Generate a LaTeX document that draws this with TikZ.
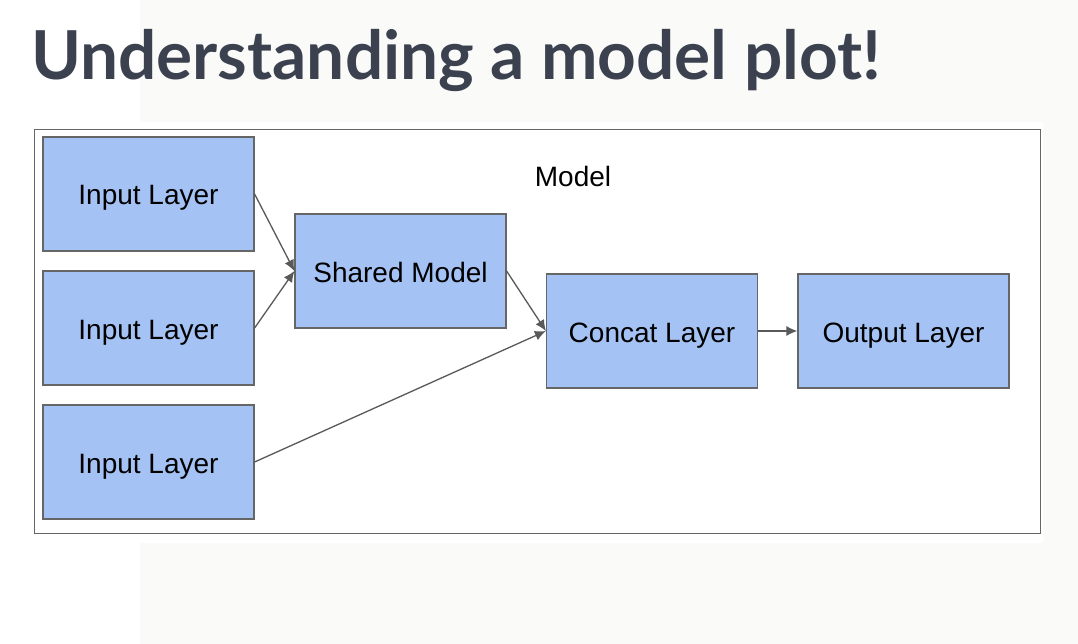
\documentclass[tikz,border=0pt]{standalone}
\usepackage{fontspec}
\setmainfont{Liberation Sans}
\newfontfamily\titlefont{Lato}
\usetikzlibrary{arrows.meta}
\definecolor{offwhite}{HTML}{FAFAF9}
\definecolor{titlecol}{HTML}{3C4150}
\definecolor{boxfill}{HTML}{A4C2F4}
\definecolor{boxline}{HTML}{666666}
\definecolor{arrowcol}{HTML}{595959}
\tikzset{
  layerbox/.style={draw=boxline, fill=boxfill, line width=1.2pt, minimum width=211pt, minimum height=114pt, inner sep=0pt, text height=22pt, text depth=0pt, font=\fontsize{28}{32}\selectfont, text=black},
  conn/.style={draw=arrowcol, line width=1.3pt, -{Latex[length=11pt,width=10pt]}}
}
\begin{document}
\begin{tikzpicture}[x=1pt,y=-1pt]
\useasboundingbox (0,0) rectangle (1078,644);
\fill[white] (0,0) rectangle (1078,644);
\fill[offwhite] (140,0) rectangle (1078,644);
\fill[white] (30,122) rectangle (1043,543);
\node[anchor=base west, inner sep=0pt, text=titlecol, font=\titlefont\bfseries\fontsize{67.5}{70}\selectfont] (title) at (31,80) {Understanding a model plot!};
\node[draw=boxline, line width=1.2pt, minimum width=1006pt, minimum height=404pt, inner sep=0pt, anchor=north west] (model) at (34,129) {};
\node[anchor=base, inner sep=0pt, font=\fontsize{28}{32}\selectfont] (modellabel) at (573,187) {Model};
\node[layerbox] (in1) at (148.5,194) {Input Layer};
\node[layerbox] (in2) at (148.5,328) {Input Layer};
\node[layerbox] (in3) at (148.5,462) {Input Layer};
\node[layerbox] (shared) at (400.5,271) {Shared Model};
\node[layerbox] (concat) at (652,331) {Concat Layer};
\node[layerbox] (out) at (903.5,331) {Output Layer};
\draw[conn] (in1.east) -- (shared.west);
\draw[conn] (in2.east) -- (shared.west);
\draw[conn] (shared.east) -- (concat.west);
\draw[conn] (in3.east) -- (concat.west);
\draw[conn] (concat.east) -- (out.west);
\end{tikzpicture}
\end{document}
